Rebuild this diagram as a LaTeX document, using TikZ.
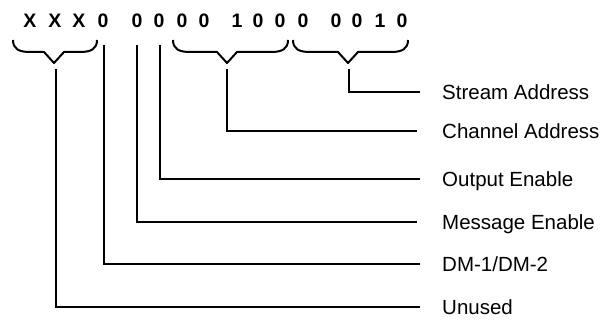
\documentclass[tikz,border=0pt]{standalone}
\usepackage{fontspec}
\setmainfont{Liberation Sans}
\begin{document}
\begin{tikzpicture}[x=1pt,y=-1pt,
  conn/.style={line width=2pt},
  brace/.style={line width=2pt, line join=round},
  bit/.style={font=\bfseries\fontsize{19.5}{22}\selectfont, inner sep=0pt, anchor=base},
  lab/.style={font=\fontsize{20.5}{23}\selectfont, inner sep=0pt, anchor=west, text height=14.7pt, text depth=0pt}]
\useasboundingbox (0,0) rectangle (613,320);
% bits
\foreach \x/\c [count=\i] in {30/X,55/X,79/X,103/0,137/0,159/0,182/0,204/0,237/1,258/0,280/0,303/0,336/0,357/0,380/1,402/0}
  \node[bit] (b\i) at (\x,27.5) {\c};
% braces
\draw[brace] (13,40) .. controls (13,49) and (19,52) .. (30,52) -- (44,52) -- (54,63) -- (64,52) -- (80,52) .. controls (91,52) and (97,49) .. (97,40);
\draw[brace] (173,40) .. controls (173,49) and (179,52) .. (190,52) -- (217,52) -- (227,63) -- (237,52) -- (271,52) .. controls (282,52) and (288,49) .. (288,40);
\draw[brace] (293,40) .. controls (293,49) and (299,52) .. (310,52) -- (338,52) -- (348,63) -- (358,52) -- (391,52) .. controls (402,52) and (408,49) .. (408,40);
% labels
\node[lab] (sa) at (442,92) {Stream Address};
\node[lab] (ca) at (442,131) {Channel Address};
\node[lab] (oe) at (442,179) {Output Enable};
\node[lab] (me) at (442,222) {Message Enable};
\node[lab] (dm) at (442,264) {DM-1/DM-2};
\node[lab] (un) at (442,307) {Unused};
% connector starts
\coordinate (cu) at (56,69);
\coordinate (cd) at (104,45);
\coordinate (cm) at (137,45);
\coordinate (co) at (160,45);
\coordinate (cc) at (227,69);
\coordinate (cs) at (349,69);
% connectors
\draw[conn] (cs) |- ([xshift=-22pt]sa.west);
\draw[conn] (cc) |- ([xshift=-25pt]ca.west);
\draw[conn] (co) |- ([xshift=-22pt]oe.west);
\draw[conn] (cm) |- ([xshift=-25pt]me.west);
\draw[conn] (cd) |- ([xshift=-22pt]dm.west);
\draw[conn] (cu) |- ([xshift=-22pt]un.west);
\end{tikzpicture}
\end{document}
